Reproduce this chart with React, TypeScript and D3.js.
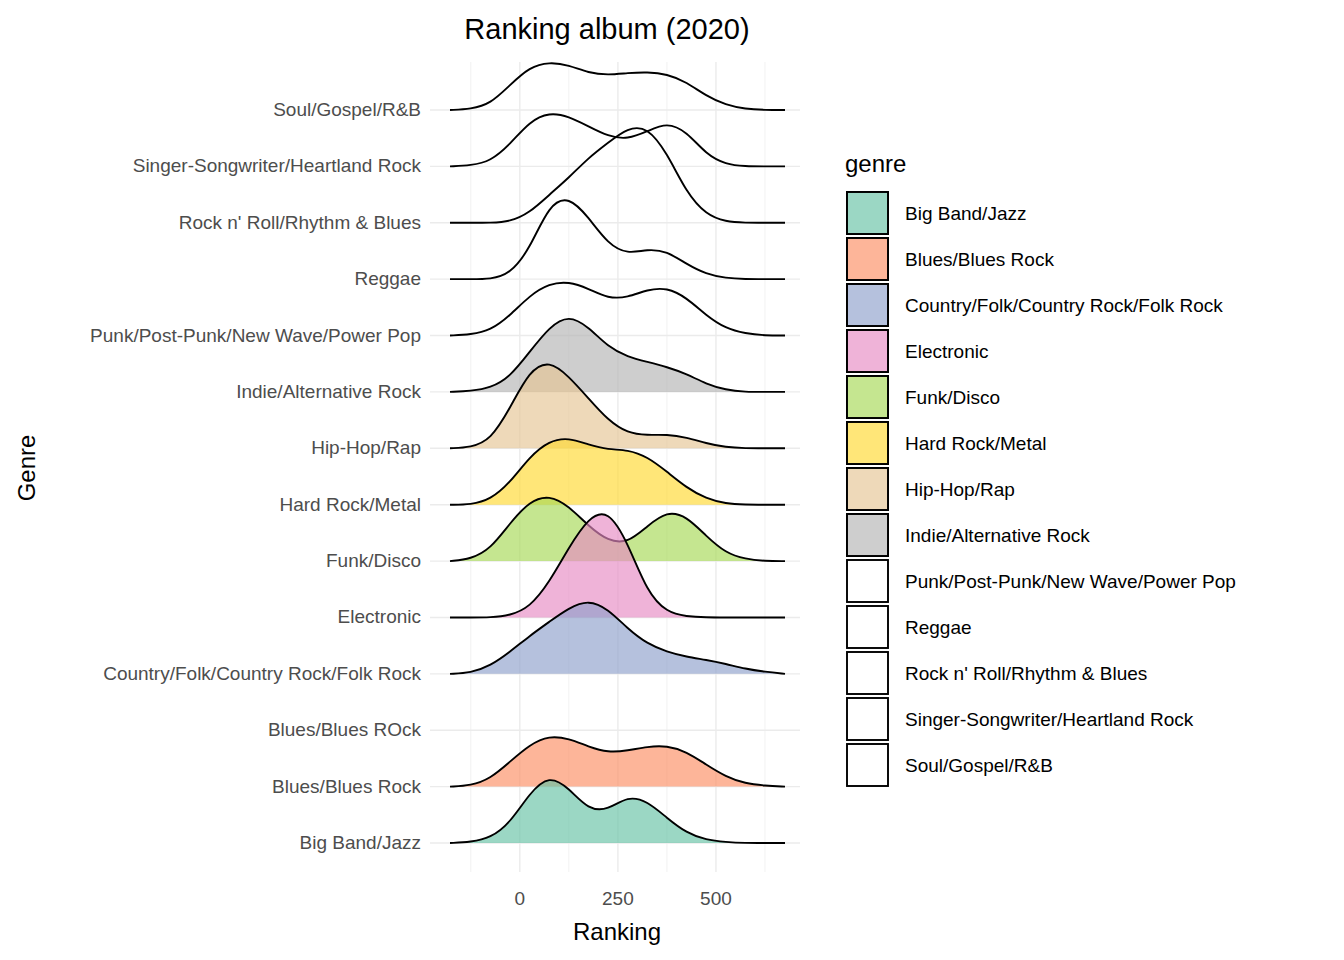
import React from 'react';
import * as d3 from 'd3';

const genres = [
  'Big Band/Jazz', 'Blues/Blues Rock', 'Blues/Blues ROck', 'Country/Folk/Country Rock/Folk Rock',
  'Electronic', 'Funk/Disco', 'Hard Rock/Metal', 'Hip-Hop/Rap', 'Indie/Alternative Rock',
  'Punk/Post-Punk/New Wave/Power Pop', 'Reggae', "Rock n' Roll/Rhythm & Blues",
  'Singer-Songwriter/Heartland Rock', 'Soul/Gospel/R&B',
];
const legendGenres = genres.filter(g => g !== 'Blues/Blues ROck');
const fills = ['#66C2A5', '#FC8D62', null, '#8DA0CB', '#E78AC3', '#A6D854', '#FFD92F', '#E5C494', '#B3B3B3', null, null, null, null, null];

// sample rankings where the density heights were read
const grid = [-178, -125, -75, -25, 25, 75, 125, 175, 225, 275, 325, 375, 425, 475, 525, 575, 625, 676];
// density heights, in px of row spacing units (~56px per row)
const bigBand = [0, 1, 5, 20, 50, 68, 55, 33, 33, 47, 42, 25, 10, 3, 1, 0, 0, 0];
const bluesRock = [0, 1, 8, 25, 42, 51, 48, 40, 34, 36, 40, 41, 35, 22, 10, 3, 1, 0];
const bluesROck: number[] = [];
const country = [0, 1, 8, 22, 38, 52, 66, 74, 65, 45, 30, 22, 17, 14, 10, 5, 2, 0];
const electronic = [0, 0, 0, 2, 10, 35, 70, 100, 108, 75, 25, 5, 1, 0, 0, 0, 0, 0];
const funk = [0, 2, 12, 38, 60, 66, 55, 35, 20, 18, 35, 50, 45, 25, 8, 2, 0, 0];
const hardRock = [0, 0, 5, 22, 48, 64, 67, 60, 55, 55, 48, 33, 17, 6, 1, 0, 0, 0];
const hipHop = [0, 1, 8, 40, 78, 88, 72, 50, 28, 15, 13, 14, 11, 5, 1, 0, 0, 0];
const indie = [0, 1, 4, 15, 40, 65, 77, 65, 45, 35, 30, 25, 18, 8, 2, 0, 0, 0];
const punk = [0, 1, 5, 20, 40, 52, 54, 47, 37, 38, 46, 48, 38, 20, 7, 2, 0, 0];
const reggae = [0, 0, 0, 5, 30, 75, 83, 62, 35, 25, 30, 28, 15, 5, 1, 0, 0, 0];
const rockRoll = [0, 0, 0, 1, 10, 28, 45, 65, 80, 95, 96, 70, 30, 8, 1, 0, 0, 0];
const singer = [0, 1, 5, 22, 45, 54, 50, 40, 30, 27, 35, 44, 35, 12, 2, 0, 0, 0];
const soul = [0, 1, 6, 25, 43, 48, 45, 37, 35, 37, 38, 36, 28, 14, 5, 1, 0, 0];
const densities = [bigBand, bluesRock, bluesROck, country, electronic, funk, hardRock, hipHop, indie, punk, reggae, rockRoll, singer, soul];
const xTicks = [0, 250, 500];
const xGrid = [-125, 0, 125, 250, 375, 500, 625];

const font = 'Liberation Sans, Arial, sans-serif';

export default function App() {
  const x = d3.scaleLinear().domain([-178, 676]).range([450, 785]);
  const y = d3.scalePoint<string>().domain(genres).range([843, 110]);
  const rowH = 56.4;
  const hScale = rowH / 56.4;

  const area = d3.area<[number, number]>().x(d => x(d[0])).y0(d => 0).y1(d => -d[1] * hScale).curve(d3.curveBasis);
  const line = d3.line<[number, number]>().x(d => x(d[0])).y(d => -d[1] * hScale).curve(d3.curveBasis);

  const order = d3.range(genres.length).reverse();

  return (
    <svg width={1344} height={960} style={{ display: 'block', margin: -8 }} fontFamily={font}>
      <rect width={1344} height={960} fill="white" />
      {xGrid.map(t => (
        <line key={t} x1={x(t)} x2={x(t)} y1={62} y2={872} stroke="#ebebeb" strokeWidth={t % 250 === 0 ? 1.4 : 0.7} />
      ))}
      {genres.map(g => (
        <line key={g} x1={430} x2={800} y1={y(g)} y2={y(g)} stroke="#ebebeb" strokeWidth={1.4} />
      ))}
      {order.map(i => {
        const d = densities[i];
        if (!d.length) return null;
        const pts = grid.map((gx, j) => [gx, d[j]] as [number, number]);
        return (
          <g key={i} transform={`translate(0,${y(genres[i])})`}>
            {fills[i] && <path d={area(pts)!} fill={fills[i]!} fillOpacity={0.65} />}
            <path d={line(pts)!} fill="none" stroke="black" strokeWidth={1.9} />
          </g>
        );
      })}
      {genres.map(g => (
        <text key={g} x={421} y={y(g)! + 6} textAnchor="end" fontSize={19} fill="#4d4d4d">{g}</text>
      ))}
      {xTicks.map(t => (
        <text key={t} x={x(t)} y={905} textAnchor="middle" fontSize={19} fill="#4d4d4d">{t}</text>
      ))}
      <text x={617} y={940} textAnchor="middle" fontSize={24}>Ranking</text>
      <text transform="translate(35,468) rotate(-90)" textAnchor="middle" fontSize={24}>Genre</text>
      <text x={607} y={39} textAnchor="middle" fontSize={29}>Ranking album (2020)</text>
      <text x={845} y={172} fontSize={24}>genre</text>
      {legendGenres.map((g, i) => {
        const gi = genres.indexOf(g);
        const ly = 192 + i * 46;
        return (
          <g key={g}>
            <rect x={847} y={ly} width={41} height={42} fill="white" stroke="black" strokeWidth={1.9} />
            {fills[gi] && <rect x={847} y={ly} width={41} height={42} fill={fills[gi]!} fillOpacity={0.65} stroke="black" strokeWidth={1.9} />}
            <text x={905} y={ly + 28} fontSize={19}>{g}</text>
          </g>
        );
      })}
    </svg>
  );
}
